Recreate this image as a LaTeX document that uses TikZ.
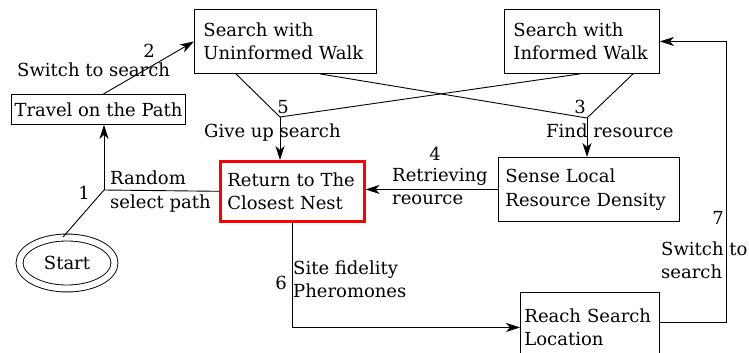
\documentclass[tikz,border=0pt]{standalone}
\usepackage{fontspec}
\setmainfont{DejaVu Serif}
\usetikzlibrary{arrows.meta,shapes.geometric,calc}
\begin{document}
\begin{tikzpicture}[x=1pt,y=-1pt,
  every node/.style={font=\fontsize{18}{23.5}\selectfont},
  box/.style={draw,line width=0.9pt,anchor=north west,align=left,inner xsep=9pt,inner ysep=0pt},
  lbl/.style={anchor=west,align=left,inner sep=0pt},
  num/.style={inner sep=0pt},
  ln/.style={line width=0.9pt},
  arr/.style={ln,-{Stealth[length=14pt,width=9pt,inset=4pt]}}]
\useasboundingbox (0,0) rectangle (749,353);
% boxes
\node[box,text width=164pt,minimum height=64pt] (unin) at (194,9) {Search with\\Uninformed Walk};
\node[box,text width=137pt,minimum height=64pt] (inf) at (504,9) {Search with\\Informed Walk};
\node[box,inner xsep=0pt,minimum width=174pt,minimum height=30pt,align=center] (trav) at (11,94) {Travel on the Path};
\node[box,draw=red,line width=2.6pt,inner xsep=7pt,text width=130pt,minimum height=60pt] (ret) at (219,160) {Return to The\\Closest Nest};
\node[box,inner xsep=7pt,text width=167pt,minimum height=64pt] (sense) at (498,157) {Sense Local\\Resource Density};
\node[box,inner xsep=4pt,text width=131pt,minimum height=70pt] (reach) at (520,292) {Reach Search\\Location};
\node[draw,ellipse,double,double distance=6pt,line width=0.9pt,minimum width=95pt,minimum height=51pt,inner sep=0pt] (start) at (67,263) {Start};
% junctions
\coordinate (j1) at (104,190);
\coordinate (j5) at (280,117);
\coordinate (j3) at (587,118);
\coordinate (c7) at (726,0);
% edge 1
\draw[ln] ([xshift=-4pt]start.north) -- (j1);
\draw[ln] (ret.west) -- (j1);
\draw[arr] (j1) -- (j1 |- trav.south);
% edge 2
\draw[arr] ([xshift=5pt]trav.north) -- (unin.west);
% edge 5
\draw[ln] ([xshift=42pt]unin.south west) -- (j5);
\draw[ln] ([xshift=76pt]inf.south west) -- (j5);
\draw[arr] (j5) -- (j5 |- ret.north);
% edge 3
\draw[ln] ([xshift=126pt]unin.south west) -- (j3);
\draw[ln] ([xshift=129pt]inf.south west) -- (j3);
\draw[arr] (j3) -- (j3 |- sense.north);
% edge 4
\draw[arr] (sense.west) -- (sense.west -| ret.east);
% edge 6
\draw[arr] ([xshift=73pt]ret.south west) |- (reach.west);
% edge 7
\draw[arr] ([yshift=5pt]reach.east) -- ([yshift=5pt]reach.east -| c7) -- (c7 |- inf.east) -- (inf.east);
% labels
\node[num] (n1) at (84,193) {1};
\node[lbl] (l1) at (110,191.5) {Random\\select path};
\node[num] (n2) at (149,51) {2};
\node[lbl] (l2) at (17,69.5) {Switch to search};
\node[num] (n5) at (283,107) {5};
\node[lbl] (l5) at (204,133) {Give up search};
\node[num] (n3) at (580,107) {3};
\node[lbl] (l3) at (546,131) {Find resource};
\node[num] (n4) at (435,154) {4};
\node[lbl] (l4) at (392,186.5) {Retrieving\\reource};
\node[num] (n6) at (281,283) {6};
\node[lbl] (l6) at (293,279.5) {Site fidelity\\Pheromones};
\node[num] (n7) at (718,218) {7};
\node[lbl] (l7) at (661,260.5) {Switch to\\search};
\end{tikzpicture}
\end{document}
